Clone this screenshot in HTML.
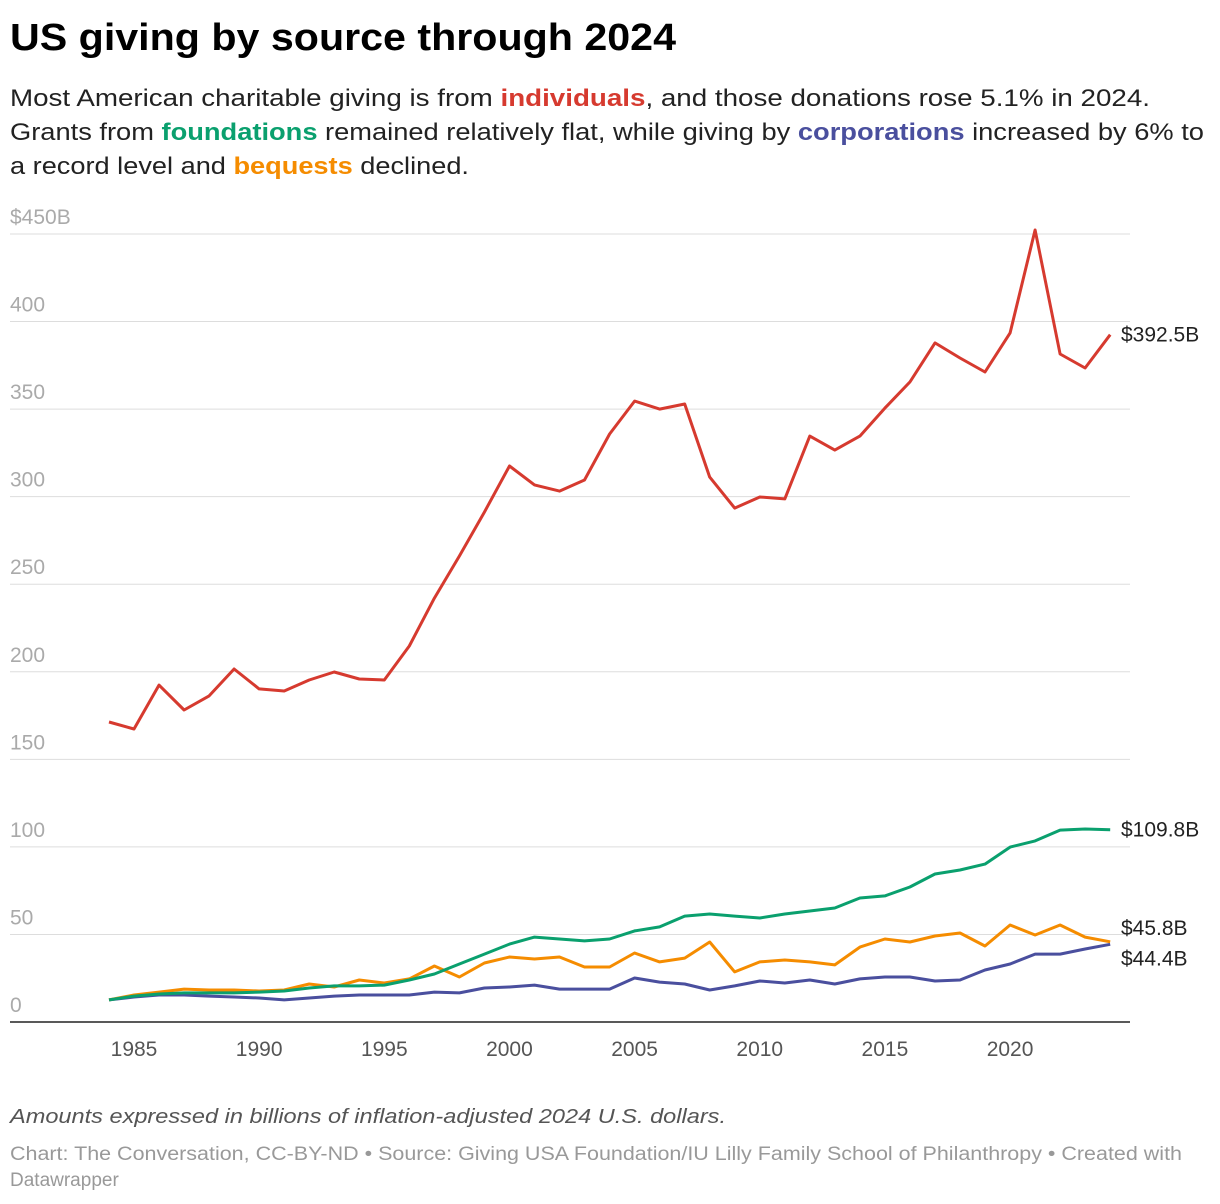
<!DOCTYPE html>
<html><head><meta charset="utf-8"><style>
html,body{margin:0;padding:0;background:#fff;}
svg{display:block;font-family:"Liberation Sans",sans-serif;}
</style></head><body>
<svg id="chart" width="1220" height="1204" viewBox="0 0 1220 1204">
<text x="10" y="50" font-size="38" font-weight="bold" fill="#000" textLength="666" lengthAdjust="spacingAndGlyphs">US giving by source through 2024</text>
<g font-size="24" fill="#222">
<text x="10" y="106" textLength="1140" lengthAdjust="spacingAndGlyphs">Most American charitable giving is from <tspan fill="#d63a2f" font-weight="bold">individuals</tspan>, and those donations rose 5.1% in 2024.</text>
<text x="10" y="140" textLength="1194" lengthAdjust="spacingAndGlyphs">Grants from <tspan fill="#0aa06e" font-weight="bold">foundations</tspan> remained relatively flat, while giving by <tspan fill="#4a4f9e" font-weight="bold">corporations</tspan> increased by 6% to</text>
<text x="10" y="174" textLength="459" lengthAdjust="spacingAndGlyphs">a record level and <tspan fill="#f58c00" font-weight="bold">bequests</tspan> declined.</text>
</g>
<g id="grid"></g>
<g id="xaxis"></g>
<g id="lines"></g>
<g id="labels"></g>
<text x="10" y="1123" font-size="20" font-style="italic" fill="#555" textLength="716" lengthAdjust="spacingAndGlyphs">Amounts expressed in billions of inflation-adjusted 2024 U.S. dollars.</text>
<text x="10" y="1160" font-size="19" fill="#999" textLength="1172" lengthAdjust="spacingAndGlyphs">Chart: The Conversation, CC-BY-ND • Source: Giving USA Foundation/IU Lilly Family School of Philanthropy • Created with</text>
<text x="10" y="1186" font-size="19" fill="#999">Datawrapper</text>
</svg>
<script>
const years = [];
for (let y = 1984; y <= 2024; y++) years.push(y);
const individuals = [171.3,167.3,192.4,178.2,186.2,201.6,190.2,189,195.3,199.9,195.9,195.3,214.7,242.1,266.1,291.2,317.5,306.7,303.2,309.5,335.8,354.6,350,352.9,311.2,293.5,299.8,298.7,334.6,326.6,334.6,350.6,365.5,387.8,379.2,371.2,393.5,452.3,381.5,373.5,392.5];
const foundations = [12.6,14.8,16,16.6,16.6,16.6,17.1,17.7,19.4,20.6,20.6,21.1,24,27.4,33.1,38.8,44.5,48.5,47.4,46.3,47.4,52,54.3,60.5,61.7,60.5,59.4,61.7,63.4,65.1,70.8,72,77.1,84.5,86.8,90.2,99.9,103.4,109.6,110.2,109.8];
const bequests = [12.6,15.4,17.1,18.8,18.3,18.3,17.7,18.3,21.7,20,24,22.3,24.6,32,25.7,33.7,37.1,36,37.1,31.4,31.4,39.4,34.3,36.5,45.7,28.6,34.3,35.4,34.3,32.6,42.8,47.4,45.7,49.1,50.8,43.4,55.4,49.7,55.4,48.5,45.8];
const corporations = [12.6,14.3,15.4,15.4,14.8,14.3,13.7,12.6,13.7,14.8,15.4,15.4,15.4,17.1,16.6,19.4,20,21.1,18.8,18.8,18.8,25.1,22.8,21.7,18.3,20.6,23.4,22.3,24,21.7,24.6,25.7,25.7,23.4,24,29.7,33.1,38.8,38.8,41.7,44.4];
const yTicks = [0,50,100,150,200,250,300,350,400,450];
const yTickLabels = ["0","50","100","150","200","250","300","350","400","$450B"];
const xTicks = [1985,1990,1995,2000,2005,2010,2015,2020];

const NS = "http://www.w3.org/2000/svg";
const X = y => 134 + (y - 1985) * 25.03;
const Y = v => 1022 - v * 1.7511;
function mk(tag, attrs, parent) {
  const e = document.createElementNS(NS, tag);
  for (const k in attrs) e.setAttribute(k, attrs[k]);
  parent.appendChild(e); return e;
}
const grid = document.getElementById('grid');
yTicks.forEach((t, i) => {
  const l = mk('line', {x1: 10, x2: 1130, y1: Y(t), y2: Y(t), stroke: t === 0 ? '#222' : '#ddd', 'stroke-width': t === 0 ? 1.5 : 1}, grid);
  
  
  const tx = mk('text', {x: 10, y: Y(t) - 10, 'font-size': 21, fill: '#aaa'}, grid);
  tx.textContent = yTickLabels[i];
  
  
});
const xa = document.getElementById('xaxis');
xTicks.forEach(t => {
  const tx = mk('text', {x: X(t), y: 1056, 'font-size': 21, fill: '#555', 'text-anchor': 'middle'}, xa);
  tx.textContent = t;
  
  
});
const lines = document.getElementById('lines');
const labels = document.getElementById('labels');
const series = [
  ['corporations-line', corporations, '#4a4f9e', '$44.4B', 14],
  ['bequests-line', bequests, '#f58c00', '$45.8B', -14],
  ['foundations-line', foundations, '#0aa06e', '$109.8B', 0],
  ['individuals-line', individuals, '#d63a2f', '$392.5B', 0]
];
series.forEach(s => {
  const d = s[1].map((v, i) => (i ? 'L' : 'M') + X(years[i]).toFixed(1) + ',' + Y(v).toFixed(1)).join('');
  const p = mk('path', {d: d, fill: 'none', stroke: s[2], 'stroke-width': 3, 'stroke-linejoin': 'round'}, lines);
  
  
  const last = s[1][s[1].length - 1];
  const tx = mk('text', {x: 1121, y: Y(last) + s[4] + 7, 'font-size': 21, fill: '#222'}, labels);
  tx.textContent = s[3];
  
  
});
</script>
</body></html>
